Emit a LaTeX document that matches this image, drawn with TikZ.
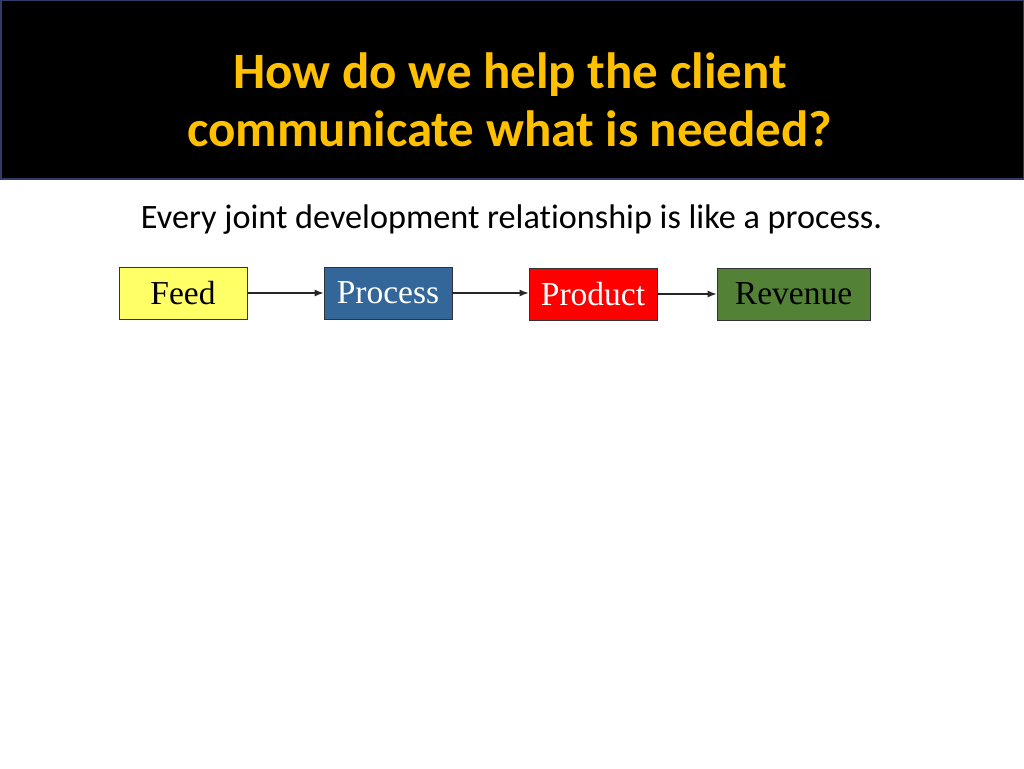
\documentclass[tikz,border=0pt]{standalone}
\usepackage{fontspec}
\setmainfont{Liberation Serif}
\newfontfamily\slidefont[Ligatures=NoCommon]{Carlito}
\usepackage[dvipsnames]{xcolor}
\usetikzlibrary{arrows.meta}
\definecolor{titlegold}{HTML}{FFC000}
\definecolor{titleedge}{HTML}{2F3D66}
\definecolor{feedyellow}{HTML}{FFFF66}
\definecolor{processblue}{HTML}{336699}
\definecolor{productred}{HTML}{FF0000}
\definecolor{revenuegreen}{HTML}{538135}
\tikzset{
    stagebox/.style={draw=black!80,line width=0.8pt,inner sep=0pt,minimum width=128pt,minimum height=52pt,font=\fontsize{33.5}{38}\selectfont},
    flow/.style={-{Latex[length=9pt,width=7pt]},line width=1.2pt,black!85}
}
\begin{document}
\begin{tikzpicture}[x=1pt,y=-1pt]
\useasboundingbox (0,0) rectangle (1024,768); % slide frame
\fill[white] (0,0) rectangle (1024,768); % background
\draw[fill=black,draw=titleedge,line width=1.5pt] (0.75,0.75) rectangle (1023.25,179); % title bar
\node[anchor=base,text=titlegold,font=\slidefont\bfseries\fontsize{51}{58}\selectfont] (title1) at (510,88) {How do we help the client}; % title first line
\node[anchor=base,text=titlegold,font=\slidefont\bfseries\fontsize{51}{58}\selectfont] (title2) at (510,146) {communicate what is needed?}; % title second line
\node[anchor=base,font=\slidefont\fontsize{34.2}{40}\selectfont] (lead) at (511.5,228) {Every joint development relationship is like a process.}; % lead sentence
\node[stagebox,fill=feedyellow] (feed) at (183,293) {Feed}; % input
\node[stagebox,fill=processblue,text=white] (process) at (388,293) {Process}; % process step
\node[stagebox,fill=productred,text=white] (product) at (593,294) {Product}; % output
\node[stagebox,fill=revenuegreen,minimum width=153pt] (revenue) at (793.5,294) {Revenue}; % result
\draw[flow] (feed) -- (process); % feed to process
\draw[flow] (process.east) -- (product.west|-process.east); % process to product
\draw[flow] (product) -- (revenue); % product to revenue
\end{tikzpicture}
\end{document}
